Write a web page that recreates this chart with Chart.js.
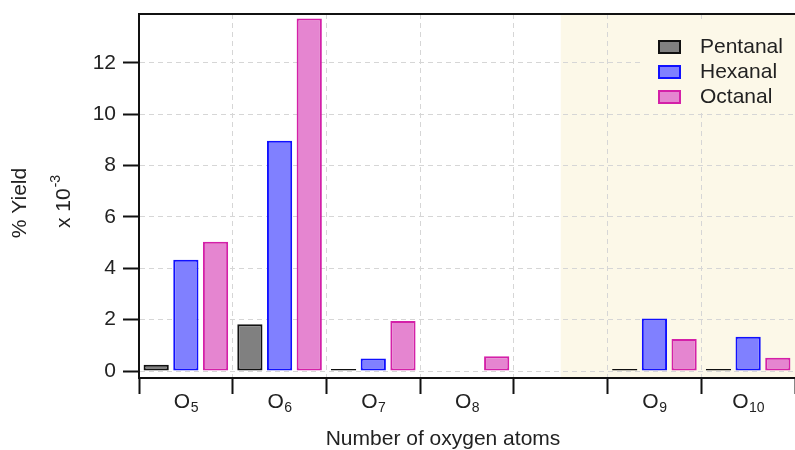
<!DOCTYPE html>
<html>
<head>
<meta charset="utf-8">
<script src="https://cdn.jsdelivr.net/npm/chart.js@4.4.0/dist/chart.umd.min.js"></script>
<style>
  html, body { margin: 0; padding: 0; background: #fff; overflow: hidden; }
  #wrap { width: 795px; height: 450px; }
</style>
</head>
<body>
<div id="wrap"><canvas id="yieldChart" width="795" height="450"></canvas></div>
<script>
// ================= Dữ liệu =================
const oxygenCounts = ['5', '6', '7', '8', '', '9', '10'];   // chỉ số O_n, ô trống = khoảng cách
const pentanal = [0.25, 1.82, 0.08, null, null, 0.08, 0.08];
const hexanal  = [4.33, 8.97, 0.49, null, null, 2.05, 1.34];
const octanal  = [5.03, 13.72, 1.95, 0.58, null, 1.25, 0.52];
const yTicks = [0, 2, 4, 6, 8, 10, 12];
const shadeFrom = 4;  // vùng tô màu bắt đầu từ giữa ô trống

const FONT = "'Liberation Sans', Arial, sans-serif";
const TEXT = '#222';
const SHADE = '#fcf8e8';

// ================= Plugin vẽ phụ =================
const shadePlugin = {
  id: 'shade',
  beforeDraw(chart) {
    const { ctx, chartArea } = chart;
    const x0 = chart.scales.x.getPixelForValue(shadeFrom);
    ctx.save();
    ctx.fillStyle = SHADE;
    ctx.fillRect(x0, chartArea.top, chartArea.right - x0, chartArea.bottom - chartArea.top);
    ctx.restore();
  }
};

const decorPlugin = {
  id: 'decor',
  afterDraw(chart) {
    const { ctx, chartArea } = chart;
    const xs = chart.scales.x;
    ctx.save();

    // khung trên
    ctx.strokeStyle = '#111';
    ctx.lineWidth = 2;
    ctx.beginPath();
    ctx.moveTo(chartArea.left - 1, chartArea.top);
    ctx.lineTo(chartArea.right, chartArea.top);
    ctx.stroke();

    // nhãn trục x: O + chỉ số dưới
    ctx.fillStyle = TEXT;
    ctx.textBaseline = 'alphabetic';
    oxygenCounts.forEach((n, i) => {
      if (!n) return;
      const cx = xs.getPixelForValue(i);
      ctx.font = `21px ${FONT}`;
      const wO = ctx.measureText('O').width;
      ctx.font = `14px ${FONT}`;
      const wN = ctx.measureText(n).width;
      const x = cx - (wO + wN) / 2;
      ctx.font = `21px ${FONT}`;
      ctx.textAlign = 'left';
      ctx.fillText('O', x, 408);
      ctx.font = `14px ${FONT}`;
      ctx.fillText(n, x + wO + 0.5, 412);
    });

    // tiêu đề trục x
    ctx.font = `21px ${FONT}`;
    ctx.textAlign = 'center';
    ctx.fillText('Number of oxygen atoms', 443, 445);

    // tiêu đề trục y (xoay)
    ctx.save();
    ctx.translate(26, 203);
    ctx.rotate(-Math.PI / 2);
    ctx.textAlign = 'center';
    ctx.fillText('% Yield', 0, 0);
    ctx.restore();

    ctx.save();
    ctx.translate(70, 228);
    ctx.rotate(-Math.PI / 2);
    ctx.textAlign = 'left';
    ctx.font = `21px ${FONT}`;
    ctx.fillText('x 10', 0, 0);
    const w10 = ctx.measureText('x 10').width;
    ctx.font = `14px ${FONT}`;
    ctx.fillText('-3', w10 + 1, -10);
    ctx.restore();

    // chú giải
    ctx.fillStyle = SHADE;
    ctx.fillRect(644, 22, 151, 88);
    chart.data.datasets.forEach((ds, i) => {
      const cy = 47 + i * 25;
      ctx.fillStyle = ds.backgroundColor;
      ctx.fillRect(659, cy - 6, 21, 12);
      ctx.strokeStyle = ds.borderColor;
      ctx.lineWidth = 2;
      ctx.strokeRect(659, cy - 6, 21, 12);
      ctx.fillStyle = TEXT;
      ctx.font = `21px ${FONT}`;
      ctx.textAlign = 'left';
      ctx.textBaseline = 'middle';
      ctx.fillText(ds.label, 700, cy);
    });
    ctx.restore();
  }
};

// ================= Biểu đồ =================
const barStyle = { borderWidth: 2, borderSkipped: false, categoryPercentage: 0.95, barPercentage: 0.85 };

new Chart(document.getElementById('yieldChart'), {
  type: 'bar',
  data: {
    labels: oxygenCounts.map(n => n ? 'O' + n : ''),
    datasets: [
      { label: 'Pentanal', data: pentanal, backgroundColor: '#808080', borderColor: '#111111', ...barStyle },
      { label: 'Hexanal',  data: hexanal,  backgroundColor: '#8080ff', borderColor: '#1010ff', ...barStyle },
      { label: 'Octanal',  data: octanal,  backgroundColor: '#e585d0', borderColor: '#d420a8', ...barStyle }
    ]
  },
  options: {
    responsive: false,
    animation: false,
    layout: { padding: { top: 14, right: 0, left: 0, bottom: 0 } },
    plugins: {
      legend: { display: false },
      tooltip: { enabled: false }
    },
    scales: {
      x: {
        offset: true,
        afterFit(scale) { scale.height = 72; scale.paddingLeft = 0; scale.paddingRight = 0; },
        ticks: { display: false },
        grid: {
          offset: true,
          color: '#d6d6d6',
          tickColor: '#111',
          tickLength: 16,
          tickWidth: 2,
          tickBorderDash: []
        },
        border: { color: '#111', width: 2, dash: [5, 4] }
      },
      y: {
        min: -0.27,
        max: 13.9,
        afterFit(scale) { scale.width = 139; scale.paddingTop = 0; scale.paddingBottom = 0; },
        afterBuildTicks(scale) { scale.ticks = yTicks.map(v => ({ value: v })); },
        ticks: {
          color: TEXT,
          font: { family: FONT, size: 21 },
          padding: 7
        },
        grid: {
          color: '#d6d6d6',
          tickColor: '#111',
          tickLength: 16,
          tickWidth: 2,
          tickBorderDash: []
        },
        border: { color: '#111', width: 2, dash: [5, 4] }
      }
    }
  },
  plugins: [shadePlugin, decorPlugin]
});
</script>
</body>
</html>
